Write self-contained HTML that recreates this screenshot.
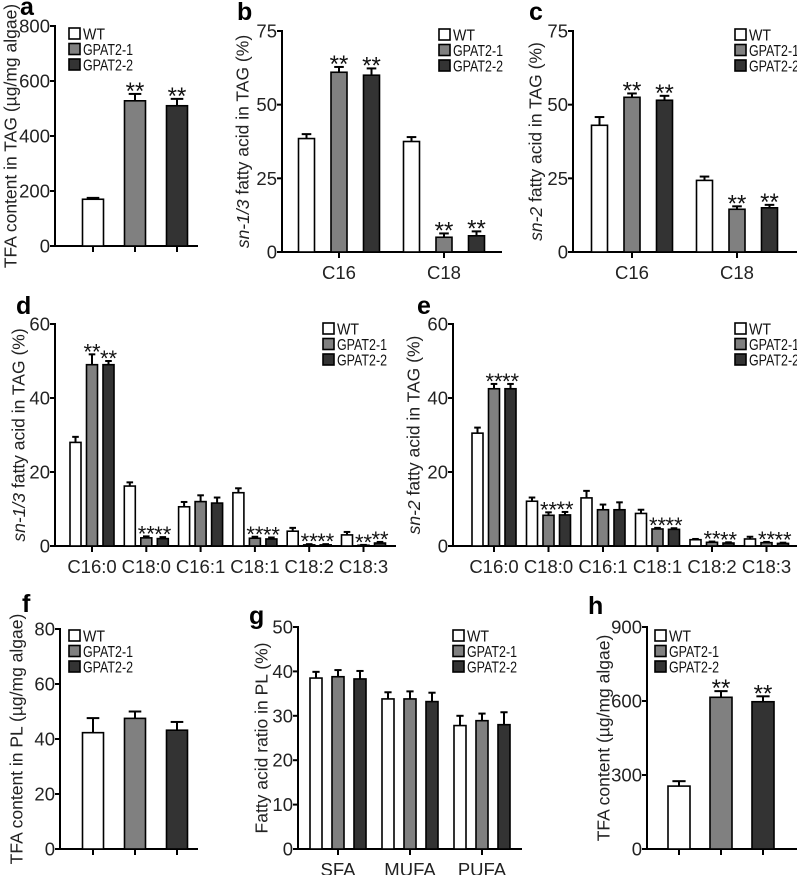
<!DOCTYPE html>
<html><head><meta charset="utf-8"><style>
html,body{margin:0;padding:0;background:#fff}
svg{display:block;font-family:"Liberation Sans",sans-serif}
</style></head><body>
<svg id="fig" width="797" height="875" viewBox="0 0 797 875" xmlns="http://www.w3.org/2000/svg"></svg>
<script>
// ---------- data ----------
const seriesNames = ["WT","GPAT2-1","GPAT2-2"];
const aValues = [170, 528, 510];
const aErrors = [5, 25, 25];
const aStars = [false, true, true];
const aTicks = [0,200,400,600,800];

const bCategories = ["C16","C18"];
const bWT = [38.5, 37.5];
const bG1 = [61, 5];
const bG2 = [60, 5.5];
const bErrWT = [1.5, 1.5];
const bErrG1 = [1.8, 1.3];
const bErrG2 = [2.3, 1.5];
const bTicks = [0,25,50,75];

const cCategories = ["C16","C18"];
const cWT = [43, 24.3];
const cG1 = [52.5, 14.5];
const cG2 = [51.5, 15];
const cErrWT = [2.8, 1.3];
const cErrG1 = [1.3, 1];
const cErrG2 = [1.5, 1];
const cTicks = [0,25,50,75];

const dCategories = ["C16:0","C18:0","C16:1","C18:1","C18:2","C18:3"];
const dWT = [28, 16.2, 10.6, 14.4, 4, 3];
const dG1 = [49, 2.2, 12, 2.1, 0.3, 0.2];
const dG2 = [49, 2, 11.6, 1.9, 0.3, 0.8];
const dErrWT = [1.5, 1, 1.3, 1.2, 0.9, 0.8];
const dErrG1 = [2.8, 0.4, 1.7, 0.4, 0.2, 0.1];
const dErrG2 = [1, 0.4, 1.5, 0.4, 0.2, 0.3];
const dTicks = [0,20,40,60];

const eCategories = ["C16:0","C18:0","C16:1","C18:1","C18:2","C18:3"];
const eWT = [30.5, 12.1, 13, 8.8, 1.7, 1.9];
const eG1 = [42.5, 8.3, 9.8, 4.6, 1, 0.9];
const eG2 = [42.5, 8.4, 9.8, 4.5, 0.8, 0.7];
const eErrWT = [1.5, 1, 1.9, 1, 0.2, 0.6];
const eErrG1 = [1.3, 0.8, 1.4, 0.3, 0.2, 0.2];
const eErrG2 = [1.3, 0.8, 2, 0.3, 0.2, 0.2];
const eTicks = [0,20,40,60];

const fValues = [42.3, 47.5, 43.2];
const fErrors = [5.3, 2.5, 3];
const fTicks = [0,20,40,60,80];

const gCategories = ["SFA","MUFA","PUFA"];
const gWT = [38.5, 33.8, 27.8];
const gG1 = [38.8, 33.8, 28.9];
const gG2 = [38.3, 33.2, 28];
const gErrWT = [1.4, 1.5, 2.2];
const gErrG1 = [1.5, 1.7, 1.6];
const gErrG2 = [1.8, 2, 2.8];
const gTicks = [0,10,20,30,40,50];

const hValues = [255, 615, 597];
const hErrors = [20, 25, 22];
const hStars = [false, true, true];
const hTicks = [0,300,600,900];

// ---------- drawing ----------
const NS="http://www.w3.org/2000/svg";
const svg=document.getElementById('fig');
const fills=["#ffffff","#808080","#333333"];
function mk(tag,attrs,parent){const e=document.createElementNS(NS,tag);for(const k in attrs)e.setAttribute(k,attrs[k]);(parent||svg).appendChild(e);return e;}

function panel(o){
  const g=mk('g',{});
  
  
  const y=v=>o.y0-(v/o.ymax)*(o.y0-o.ytop);
  const L=mk('text',{x:o.letter[0],y:o.letter[1],'font-size':25,'font-weight':'bold'},g);
  L.textContent=o.id;
  
  
  const ya=mk('line',{x1:o.ax,y1:o.ytop-1,x2:o.ax,y2:o.y0+1,stroke:'#000','stroke-width':2},g);
  
  
  o.ticks.forEach(t=>{
    mk('line',{x1:o.ax-5,y1:y(t),x2:o.ax,y2:y(t),stroke:'#000','stroke-width':2},g);
    const tt=mk('text',{x:o.ax-5,y:y(t)+6.5,'font-size':18.5,'text-anchor':'end',fill:'#222'},g);
    tt.textContent=t;
    
    
  });
  const cy=(o.ytop+o.y0)/2;
  const yt=mk('text',{x:o.tx,y:cy,'font-size':17.5,'text-anchor':'middle',fill:'#222',transform:`rotate(-90 ${o.tx} ${cy})`,'dominant-baseline':'middle'},g);
  yt.innerHTML=o.title;
  
  
  const xa=mk('line',{x1:o.ax-1,y1:o.y0,x2:o.xend,y2:o.y0,stroke:'#000','stroke-width':2},g);
  
  
  o.groups.forEach((grp,gi)=>{
    const gc=o.g0+gi*o.gstep;
    if(grp.label){
      mk('line',{x1:gc,y1:o.y0,x2:gc,y2:o.y0+6,stroke:'#000','stroke-width':2},g);
      const cl=mk('text',{x:gc,y:o.y0+27,'font-size':18.5,'text-anchor':'middle',fill:'#222'},g);
      cl.textContent=grp.label;
      
      
    }
    grp.vals.forEach((v,si)=>{
      const bc=gc+(si-1)*o.bstep;
      if(!grp.label) mk('line',{x1:bc,y1:o.y0,x2:bc,y2:o.y0+6,stroke:'#000','stroke-width':2},g);
      const e=grp.errs[si];
      mk('line',{x1:bc,y1:y(v),x2:bc,y2:y(v+e),stroke:'#000','stroke-width':2},g);
      mk('line',{x1:bc-o.bw*0.3,y1:y(v+e),x2:bc+o.bw*0.3,y2:y(v+e),stroke:'#000','stroke-width':2},g);
      const r=mk('rect',{x:bc-o.bw/2,y:y(v),width:o.bw,height:Math.max(0.5,o.y0-y(v)),fill:fills[si],stroke:'#000','stroke-width':1.6},g);
      
      
      if(grp.stars&&grp.stars[si]){
        const s=mk('text',{x:bc,y:y(v+e)+5,'font-size':o.sf||24,'text-anchor':'middle',fill:'#111'},g);
        s.textContent='**';
        
        
      }
    });
  });
  const lg=mk('g',{},g);
  
  
  seriesNames.forEach((n,i)=>{
    const ly=o.leg[1]+i*15.5;
    mk('rect',{x:o.leg[0]+1,y:ly+1,width:11,height:11,fill:fills[i],stroke:'#000','stroke-width':1.6},lg);
    const lt=mk('text',{x:o.leg[0]+15,y:ly+12.5,'font-size':16,fill:'#111',textLength:(n.length>2?50:22),lengthAdjust:'spacingAndGlyphs'},lg);
    lt.textContent=n;
    
    
  });
}
function grouped(cats,a,b,c,ea,eb,ec,stars){
  return cats.map((l,i)=>({label:l,vals:[a[i],b[i],c[i]],errs:[ea[i],eb[i],ec[i]],stars:stars?[false,true,true]:null}));
}

panel({id:'a',letter:[20,15],ax:55,ytop:26,y0:246,ymax:800,ticks:aTicks,tx:12,
  title:'TFA content in TAG (µg/mg algae)',xend:198,g0:135,gstep:0,bstep:42,bw:21,
  groups:[{label:null,vals:aValues,errs:aErrors,stars:aStars}],leg:[68,27]});
panel({id:'b',letter:[237,20],ax:282,ytop:31,y0:252,ymax:75,ticks:bTicks,tx:244,
  title:'<tspan font-style="italic">sn-1/3</tspan> fatty acid in TAG (%)',xend:502,g0:339,gstep:105,bstep:32.5,bw:16,
  groups:grouped(bCategories,bWT,bG1,bG2,bErrWT,bErrG1,bErrG2,true),leg:[438,28]});
panel({id:'c',letter:[529,20],ax:573,ytop:31,y0:252,ymax:75,ticks:cTicks,tx:537,
  title:'<tspan font-style="italic">sn-2</tspan> fatty acid in TAG (%)',xend:797,g0:632,gstep:105,bstep:32.5,bw:16,
  groups:grouped(cCategories,cWT,cG1,cG2,cErrWT,cErrG1,cErrG2,true),leg:[734,28]});
panel({id:'d',letter:[16,314],ax:55,ytop:324,y0:546,ymax:60,ticks:dTicks,tx:20,
  title:'<tspan font-style="italic">sn-1/3</tspan> fatty acid in TAG (%)',xend:396,g0:92,gstep:54.3,bstep:16.5,bw:11,sf:22,
  groups:grouped(dCategories,dWT,dG1,dG2,dErrWT,dErrG1,dErrG2,true).map((g,i)=>{if(i==2)g.stars=null;return g;}),leg:[322,322]});
panel({id:'e',letter:[417,314],ax:453,ytop:324,y0:546,ymax:60,ticks:eTicks,tx:415,
  title:'<tspan font-style="italic">sn-2</tspan> fatty acid in TAG (%)',xend:797,g0:494,gstep:54.5,bstep:16.5,bw:11,sf:22,
  groups:grouped(eCategories,eWT,eG1,eG2,eErrWT,eErrG1,eErrG2,true).map((g,i)=>{if(i==2)g.stars=null;return g;}),leg:[734,322]});
panel({id:'f',letter:[22,612],ax:60,ytop:629,y0:849,ymax:80,ticks:fTicks,tx:18,
  title:'TFA content in PL (µg/mg algae)',xend:198,g0:135,gstep:0,bstep:42,bw:21,
  groups:[{label:null,vals:fValues,errs:fErrors,stars:null}],leg:[68,629]});
panel({id:'g',letter:[249,624],ax:298,ytop:627,y0:849,ymax:50,ticks:gTicks,tx:263,
  title:'Fatty acid ratio in PL (%)',xend:522,g0:338,gstep:72,bstep:22,bw:12,
  groups:grouped(gCategories,gWT,gG1,gG2,gErrWT,gErrG1,gErrG2,false),leg:[452,629]});
panel({id:'h',letter:[588,614],ax:647,ytop:627,y0:849,ymax:900,ticks:hTicks,tx:605,
  title:'TFA content (µg/mg algae)',xend:797,g0:721,gstep:0,bstep:42,bw:22,
  groups:[{label:null,vals:hValues,errs:hErrors,stars:hStars}],leg:[654,629]});
</script>
</body></html>
